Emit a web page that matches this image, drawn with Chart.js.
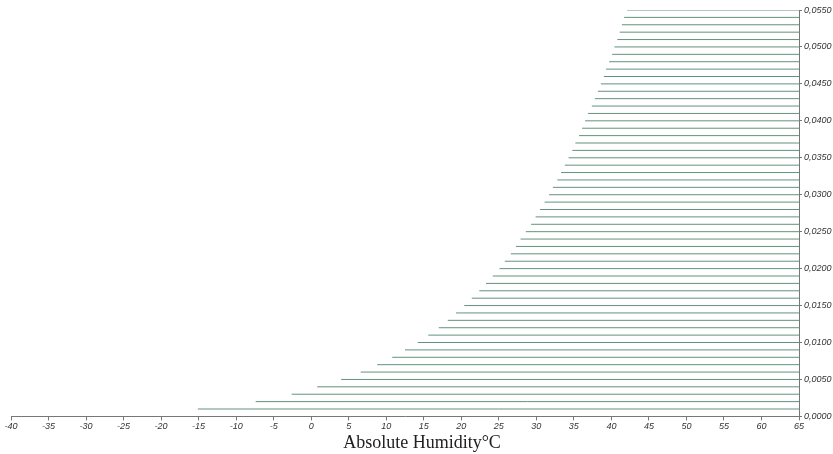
<!DOCTYPE html>
<html>
<head>
<meta charset="utf-8">
<script src="https://cdn.jsdelivr.net/npm/chart.js@4"></script>
<style>
    body { margin: 0; background: #fff; }
    #wrap { width: 833px; height: 454px; }
</style>
</head>
<body>
<div id="wrap"><canvas id="humidity_chart"></canvas></div>
<script>
// absolute humidity levels (kg/kg), one horizontal line each
const humidity = [
    0.001, 0.002, 0.003, 0.004, 0.005, 0.006, 0.007, 0.008, 0.009, 0.010,
    0.011, 0.012, 0.013, 0.014, 0.015, 0.016, 0.017, 0.018, 0.019, 0.020,
    0.021, 0.022, 0.023, 0.024, 0.025, 0.026, 0.027, 0.028, 0.029, 0.030,
    0.031, 0.032, 0.033, 0.034, 0.035, 0.036, 0.037, 0.038, 0.039, 0.040,
    0.041, 0.042, 0.043, 0.044, 0.045, 0.046, 0.047, 0.048, 0.049, 0.050,
    0.051, 0.052, 0.053, 0.054, 0.055
]
// temperature where each line starts (saturation)
const startTemp = [
    -15.1, -7.4, -2.6, 0.8, 4.0, 6.6, 8.8, 10.8, 12.5, 14.2,
    15.6, 17.0, 18.2, 19.3, 20.4, 21.4, 22.4, 23.3, 24.2, 25.1,
    25.8, 26.6, 27.3, 27.9, 28.6, 29.3, 29.9, 30.5, 31.1, 31.7,
    32.2, 32.8, 33.3, 33.8, 34.3, 34.8, 35.2, 35.7, 36.1, 36.5,
    36.9, 37.4, 37.8, 38.2, 38.6, 39.0, 39.3, 39.7, 40.1, 40.4,
    40.8, 41.1, 41.4, 41.7, 42.1
]
const endTemp = 65

const tempMin = -40
const tempMax = 65
const tempStep = 5
const humMin = 0
const humMax = 0.055
const humStep = 0.005

const datasets = humidity.map((h, i) => ({
    label: h.toFixed(3),
    data: [{ x: startTemp[i], y: h }, { x: endTemp, y: h }],
    borderColor: 'rgb(100,145,125)',
    borderWidth: 1,
    pointRadius: 0,
    fill: false
}))

const ctx = document.querySelector('#humidity_chart')

new Chart(ctx, {
    type: 'line',
    data: { datasets: datasets },
    options: {
        responsive: true,
        maintainAspectRatio: false,
        animation: false,
        layout: { padding: { left: 11, top: 10, right: 0, bottom: 0 } },
        plugins: {
            legend: { display: false },
            tooltip: { enabled: false },
            title: {
                display: true,
                position: 'bottom',
                text: 'Absolute Humidity°C',
                color: '#222',
                font: { family: 'Liberation Serif', size: 18, weight: 'normal' },
                padding: { top: 2, bottom: 0 }
            }
        },
        scales: {
            x: {
                type: 'linear',
                min: tempMin,
                max: tempMax,
                afterFit: s => { s.height = 14 },
                ticks: {
                    stepSize: tempStep,
                    padding: 1,
                    color: '#333',
                    maxRotation: 0,
                    font: { family: 'Liberation Sans', size: 9, style: 'italic' }
                },
                grid: { drawOnChartArea: false, tickLength: 4, color: '#777' },
                border: { color: '#777' }
            },
            y: {
                type: 'linear',
                position: 'right',
                min: humMin,
                max: humMax,
                afterFit: s => { s.width = 34 },
                ticks: {
                    stepSize: humStep,
                    padding: 2,
                    color: '#333',
                    font: { family: 'Liberation Sans', size: 9, style: 'italic' },
                    callback: v => v.toFixed(4).replace('.', ',')
                },
                grid: { drawOnChartArea: false, tickLength: 3, color: '#777' },
                border: { color: '#777' }
            }
        }
    }
})
</script>
</body>
</html>
